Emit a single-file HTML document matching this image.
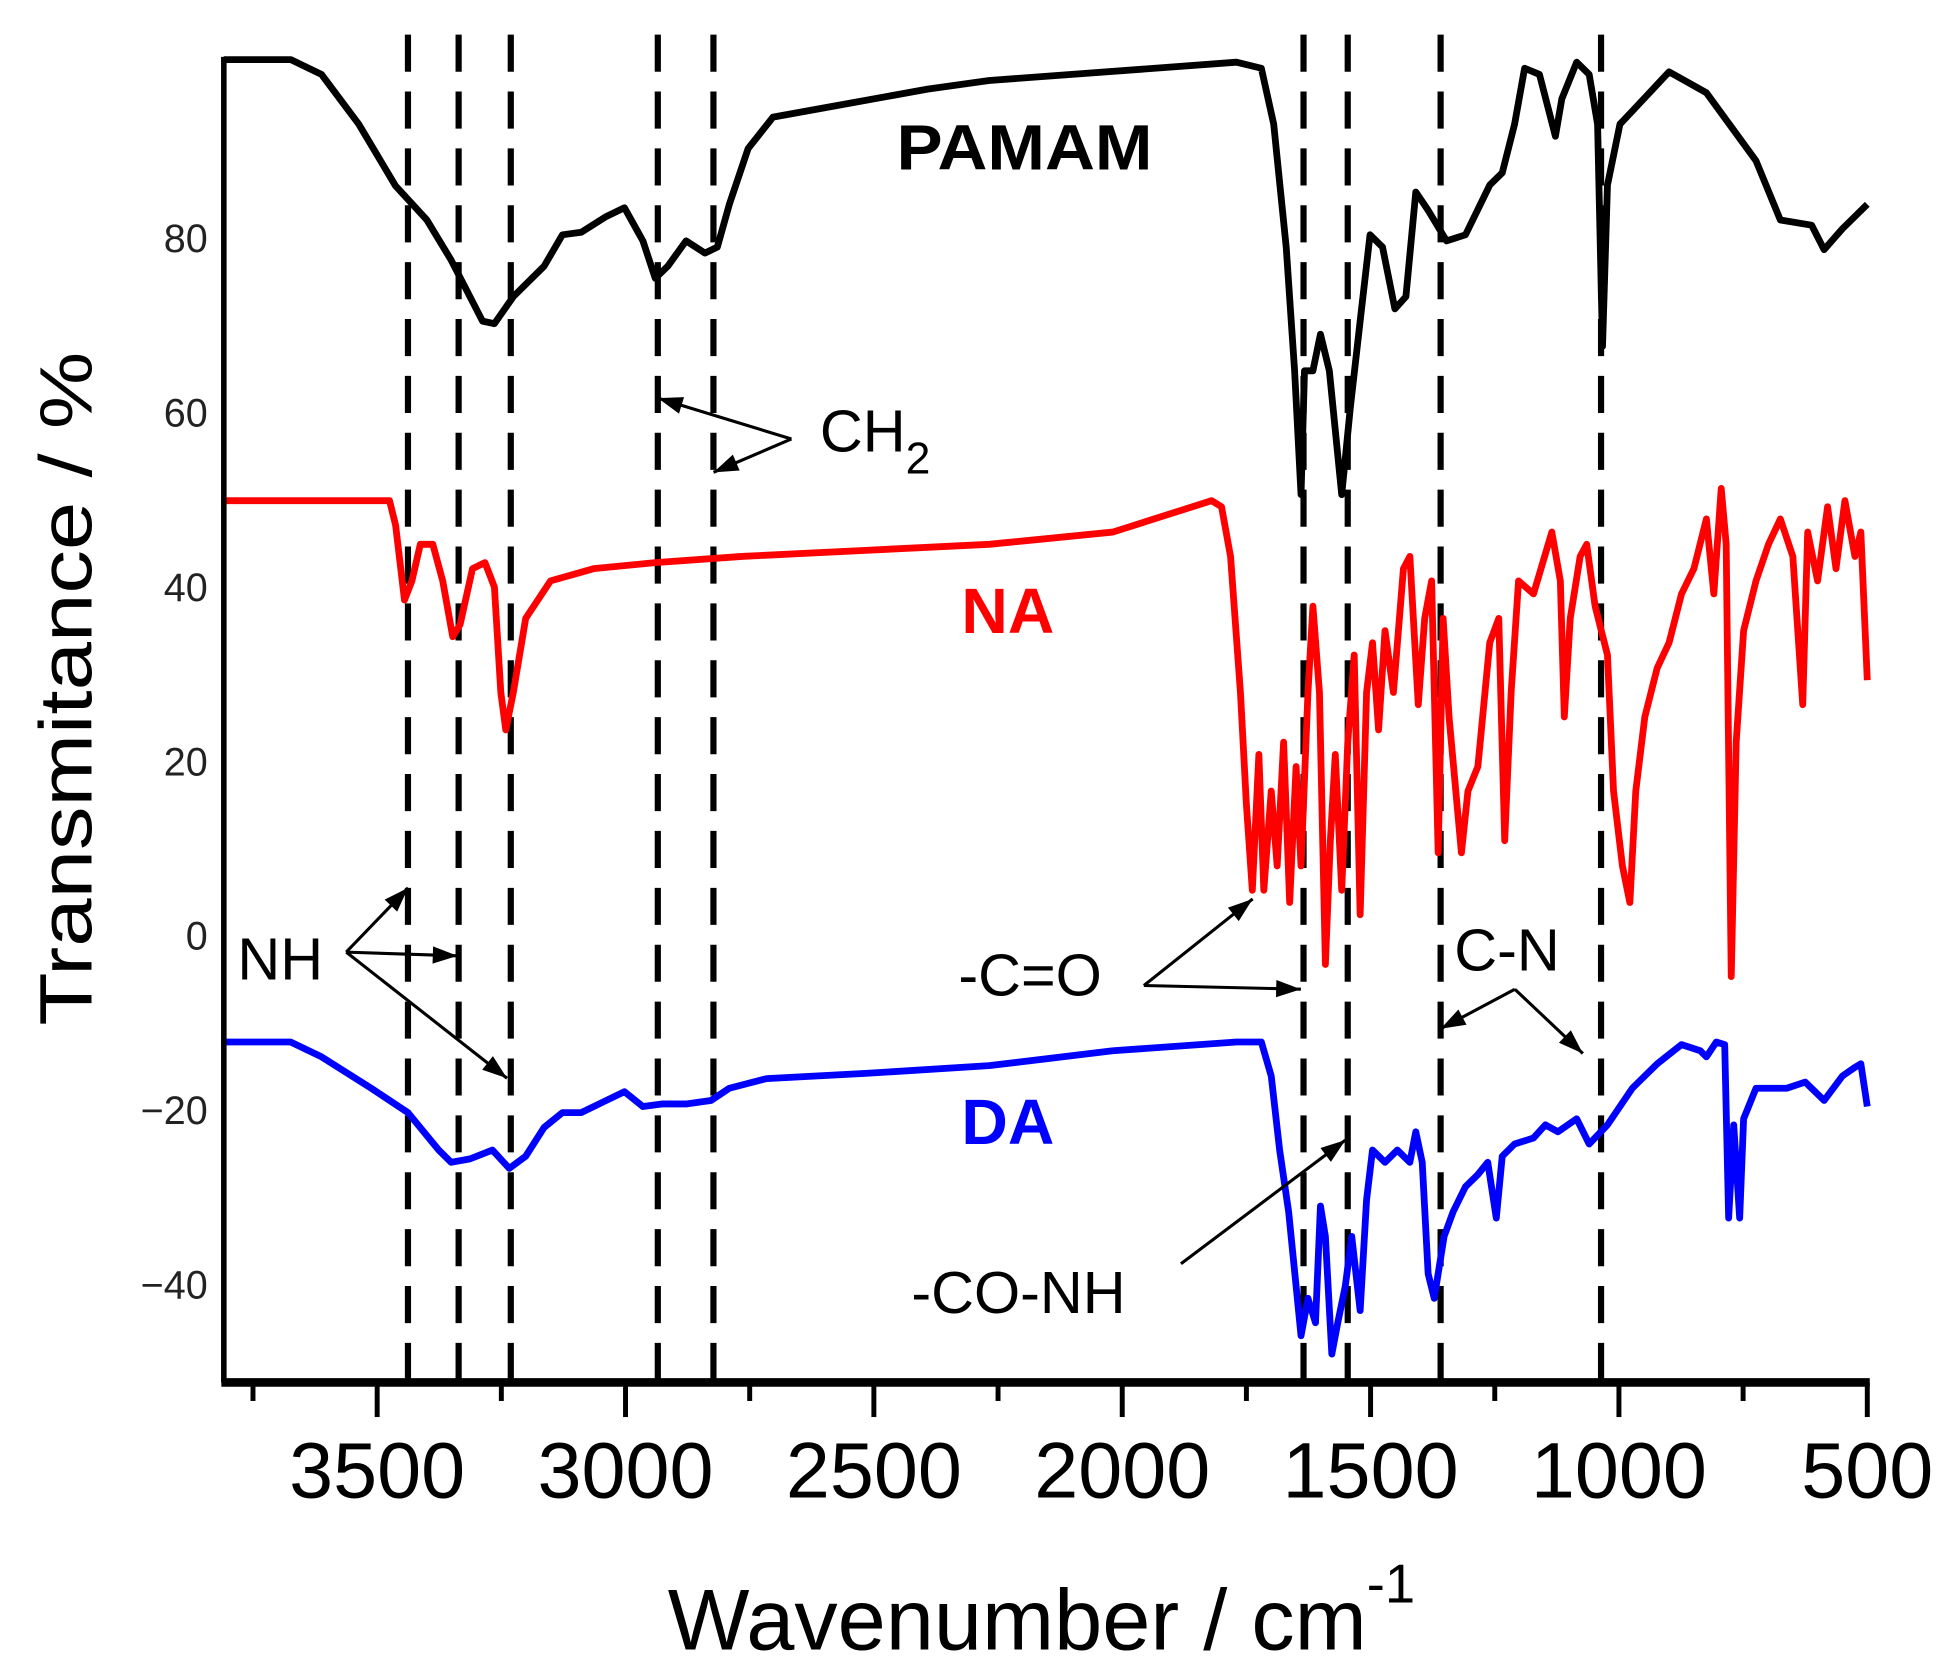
<!DOCTYPE html>
<html><head><meta charset="utf-8"><style>
html,body{margin:0;padding:0;background:#fff;}
svg{display:block;}
text{font-family:"Liberation Sans",Arial,sans-serif;}
</style></head><body>
<svg id="chart" width="1939" height="1673" viewBox="0 0 1568 1353" preserveAspectRatio="none" xmlns="http://www.w3.org/2000/svg">
<g id="plot"></g>
<g font-size="48" fill="#000">
<text x="725" y="137" font-weight="bold" font-size="52" textLength="207" lengthAdjust="spacingAndGlyphs">PAMAM</text>
<text x="815" y="512" font-weight="bold" font-size="52" fill="#ff0000" text-anchor="middle">NA</text>
<text x="815" y="925" font-weight="bold" font-size="52" fill="#0000ff" text-anchor="middle">DA</text>
<text x="663" y="365">CH<tspan font-size="36" dy="18">2</tspan></text>
<text x="192" y="792">NH</text>
<text x="775" y="805">-C=O</text>
<text x="1176" y="785">C-N</text>
<text x="737" y="1062">-CO-NH</text>
</g>
<g id="arrows"></g>
<text transform="translate(74,557) rotate(-90)" text-anchor="middle" font-size="60" textLength="545" lengthAdjust="spacingAndGlyphs">Transmitance / %</text>
<text x="540" y="1334" font-size="70">Wavenumber / cm<tspan font-size="44" dy="-38">-1</tspan></text>
</svg>
<script>
const xTicks=[3500,3000,2500,2000,1500,1000,500];
const xMinor=[3750,3250,2750,2250,1750,1250,750];
const yTicks=[80,60,40,20,0,-20,-40];
const dashPos=[3438,3336,3231,2935,2823,1635,1546,1359,1036];
const pamamW=[3809,3674,3612,3537,3463,3400,3351,3288,3264,3226,3164,3127,3089,3039,3002,2965,2940,2915,2878,2840,2815,2791,2753,2703,2567,2392,2268,1770,1720,1695,1670,1653,1640,1633,1616,1601,1583,1558,1541,1521,1501,1476,1451,1429,1409,1384,1347,1309,1260,1235,1210,1190,1160,1128,1115,1085,1060,1043,1033,1023,998,973,899,824,724,675,612,587,550,500];
const pamamT=[100.4,100.4,98.7,93.0,85.9,82.0,77.4,70.4,70.1,73.2,76.7,80.3,80.6,82.4,83.4,79.6,75.3,76.7,79.6,78.2,78.9,83.8,90.2,93.8,95.2,97.0,98.0,100.1,99.4,93.0,78.9,64.7,50.5,64.7,64.7,68.9,64.7,50.5,60.4,70.4,80.3,78.9,71.8,73.2,85.2,83.1,79.6,80.3,86.0,87.4,93.0,99.4,98.7,91.6,95.9,100.1,98.7,93.0,67.5,86.0,93.0,94.5,99.0,96.6,88.8,82.0,81.4,78.6,81.0,83.8];
const naW=[3809,3475,3463,3445,3430,3413,3388,3368,3348,3333,3308,3283,3264,3251,3241,3226,3201,3151,3064,2940,2766,2517,2268,2019,1820,1800,1782,1762,1750,1738,1725,1715,1700,1688,1675,1663,1650,1640,1626,1616,1603,1591,1581,1571,1558,1546,1533,1521,1508,1496,1484,1471,1454,1434,1421,1404,1391,1377,1364,1354,1342,1317,1304,1284,1260,1242,1230,1217,1202,1172,1135,1118,1110,1098,1078,1065,1048,1023,1011,993,978,966,948,923,899,874,849,824,809,794,784,774,764,749,724,699,675,650,630,620,600,580,563,545,525,513,500];
const naT=[49.8,49.8,47.0,38.4,40.6,44.8,44.8,40.6,34.2,35.6,42.0,42.7,39.9,27.8,23.5,27.8,36.3,40.6,42.0,42.7,43.4,44.1,44.8,46.2,49.8,49.1,43.4,27.8,15.0,5.1,20.7,5.1,16.5,7.9,22.1,3.7,19.3,7.9,27.8,37.7,27.8,-3.4,10.8,20.7,5.1,22.1,32.1,2.3,27.8,33.5,23.5,34.9,27.8,42.0,43.4,26.4,36.3,40.6,9.4,36.3,25.0,9.4,16.5,19.3,33.5,36.3,10.8,27.8,40.6,39.1,46.2,40.6,25.0,36.3,43.4,44.8,37.7,32.1,16.5,7.9,3.7,16.5,25.0,30.6,33.5,39.1,42.0,47.7,39.1,51.2,44.8,-4.8,22.1,34.9,40.6,44.8,47.7,43.4,26.4,46.2,40.6,49.1,42.0,49.8,43.4,46.2,29.2];
const daW=[3809,3674,3612,3512,3438,3376,3351,3313,3268,3234,3201,3164,3127,3089,3039,3002,2965,2927,2878,2828,2791,2716,2517,2268,2019,1770,1720,1700,1683,1665,1650,1640,1626,1611,1601,1591,1578,1566,1551,1538,1521,1508,1496,1471,1446,1421,1409,1396,1384,1372,1352,1334,1309,1284,1264,1247,1235,1210,1172,1148,1123,1085,1060,1023,973,923,874,836,824,804,787,779,769,757,749,724,662,625,587,550,525,513,500];
const daT=[-12.3,-12.3,-14.0,-17.6,-20.4,-24.7,-26.1,-25.7,-24.7,-26.8,-25.4,-22.1,-20.4,-20.4,-19.0,-18.0,-19.7,-19.4,-19.4,-19.0,-17.6,-16.5,-15.9,-15.0,-13.3,-12.3,-12.3,-16.2,-24.7,-31.8,-40.3,-46.0,-41.7,-44.5,-31.1,-34.6,-48.1,-44.5,-40.3,-34.6,-43.1,-30.4,-24.7,-26.1,-24.7,-26.1,-22.6,-26.1,-38.9,-41.7,-34.6,-31.8,-28.9,-27.5,-26.1,-32.5,-25.4,-24.0,-23.3,-21.8,-22.6,-21.1,-24.0,-21.8,-17.6,-14.8,-12.6,-13.3,-14.0,-12.3,-12.6,-32.5,-21.8,-32.5,-21.1,-17.6,-17.6,-16.9,-19.0,-16.2,-15.2,-14.8,-19.7];

const NS="http://www.w3.org/2000/svg";
const X0=181,X1=1510,Y0=48,Y1=1118;
function xs(w){return 305+(3500-w)*0.40167;}
function ys(t){return 756-t*7.05;}
const plot=document.getElementById('plot');
function mk(tag,attrs,parent){const e=document.createElementNS(NS,tag);for(const k in attrs)e.setAttribute(k,attrs[k]);(parent||plot).appendChild(e);return e;}

dashPos.forEach(w=>{
  const l=mk('line',{x1:xs(w),x2:xs(w),y1:28,y2:Y1,stroke:'#000','stroke-width':5,'stroke-dasharray':'30,16'});
  
  
});
function series(W,T,color,name){
  const pts=W.map((w,i)=>xs(w).toFixed(1)+','+ys(T[i]).toFixed(1)).join(' ');
  const p=mk('polyline',{points:pts,fill:'none',stroke:color,'stroke-width':5.5,'stroke-linejoin':'round'});
  
  
}
series(pamamW,pamamT,'#000','pamam-spectrum');
series(naW,naT,'#ff0000','na-spectrum');
series(daW,daT,'#0000ff','da-spectrum');

const ya=mk('line',{x1:X0,x2:X0,y1:Y0-2,y2:Y1,stroke:'#000','stroke-width':4.5});


const xa=mk('line',{x1:X0-2,x2:X1+2,y1:Y1,y2:Y1,stroke:'#000','stroke-width':7});


xTicks.forEach(w=>{
  const t=mk('line',{x1:xs(w),x2:xs(w),y1:Y1,y2:Y1+28,stroke:'#000','stroke-width':4});
  
  
  const tx=mk('text',{x:xs(w),y:1211,'font-size':64,'text-anchor':'middle'});
  tx.textContent=String(w);
  
  
});
xMinor.forEach(w=>{
  const t=mk('line',{x1:xs(w),x2:xs(w),y1:Y1,y2:Y1+15,stroke:'#000','stroke-width':4});
  
  
});
yTicks.forEach(v=>{
  const tx=mk('text',{x:168,y:ys(v)+12,'font-size':32,'text-anchor':'end',fill:'#222'});
  tx.textContent=v<0?'\u2212'+Math.abs(v):String(v);
  
  
});

const arrows=document.getElementById('arrows');
function arrow(x1,y1,x2,y2){
  const l=mk('line',{x1:x1,y1:y1,x2:x2,y2:y2,stroke:'#000','stroke-width':2.5},arrows);
  
  
  const a=Math.atan2(y2-y1,x2-x1),L=20,Wd=7;
  const bx=x2-L*Math.cos(a),by=y2-L*Math.sin(a);
  const p=[x2+','+y2,(bx+Wd*Math.sin(a))+','+(by-Wd*Math.cos(a)),(bx-Wd*Math.sin(a))+','+(by+Wd*Math.cos(a))].join(' ');
  const h=mk('polygon',{points:p,fill:'#000'},arrows);
  
  
}
arrow(640,355,532,322);arrow(640,355,577,382);
arrow(280,770,330,718);arrow(280,770,370,773);arrow(280,770,410,872);
arrow(925,797,1013,727);arrow(925,797,1052,800);
arrow(1225,800,1165,832);arrow(1225,800,1280,852);
arrow(955,1022,1088,922);
</script>
</body></html>
